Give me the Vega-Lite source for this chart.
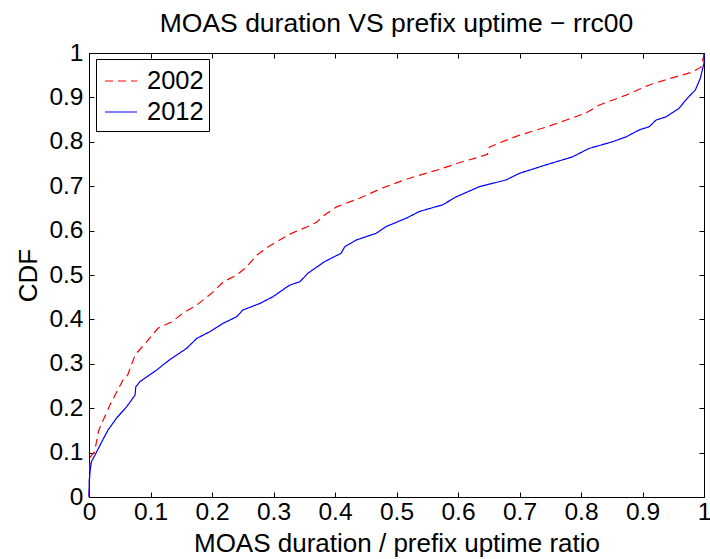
{
  "$schema": "https://vega.github.io/schema/vega-lite/v6.json",
  "width": 615,
  "height": 444,
  "autosize": "none",
  "padding": {"left": 89, "top": 53, "right": 6, "bottom": 62},
  "background": "white",
  "title": {"text": "MOAS duration VS prefix uptime − rrc00", "font": "Liberation Sans", "fontSize": 26.5, "fontWeight": "normal", "color": "black", "baseline": "alphabetic", "frame": "group", "offset": 0, "dy": 18, "anchor": "middle"},
  "config": {
    "view": {"stroke": "black", "strokeWidth": 1},
    "axis": {"grid": false, "domainColor": "black", "tickColor": "black", "labelColor": "black", "titleColor": "black", "labelFont": "Liberation Sans", "titleFont": "Liberation Sans", "labelFontSize": 24.5, "titleFontSize": 26, "titleFontWeight": "normal", "tickSize": -5, "labelFlush": false, "labelOverlap": false},
    "legend": {"orient": "none", "legendX": 7, "legendY": 6, "symbolType": "stroke", "symbolSize": 1024, "symbolOffset": 3, "symbolStrokeWidth": 1.2, "labelFont": "Liberation Sans", "labelFontSize": 25.5, "labelColor": "black", "labelOffset": 9, "padding": 5, "rowPadding": 0, "strokeColor": "black", "fillColor": "white", "cornerRadius": 0}
  },
  "data": {"values": [
    {"year": "2002", "i": 0, "x": 0, "y": 0},
    {"year": "2002", "i": 1, "x": 0.001, "y": 0.05},
    {"year": "2002", "i": 2, "x": 0.002, "y": 0.09},
    {"year": "2002", "i": 3, "x": 0.009, "y": 0.102},
    {"year": "2002", "i": 4, "x": 0.016, "y": 0.151},
    {"year": "2002", "i": 5, "x": 0.034, "y": 0.207},
    {"year": "2002", "i": 6, "x": 0.055, "y": 0.263},
    {"year": "2002", "i": 7, "x": 0.063, "y": 0.275},
    {"year": "2002", "i": 8, "x": 0.075, "y": 0.32},
    {"year": "2002", "i": 9, "x": 0.094, "y": 0.35},
    {"year": "2002", "i": 10, "x": 0.112, "y": 0.38},
    {"year": "2002", "i": 11, "x": 0.134, "y": 0.394},
    {"year": "2002", "i": 12, "x": 0.153, "y": 0.414},
    {"year": "2002", "i": 13, "x": 0.175, "y": 0.432},
    {"year": "2002", "i": 14, "x": 0.202, "y": 0.462},
    {"year": "2002", "i": 15, "x": 0.218, "y": 0.484},
    {"year": "2002", "i": 16, "x": 0.24, "y": 0.5},
    {"year": "2002", "i": 17, "x": 0.256, "y": 0.518},
    {"year": "2002", "i": 18, "x": 0.273, "y": 0.545},
    {"year": "2002", "i": 19, "x": 0.291, "y": 0.563},
    {"year": "2002", "i": 20, "x": 0.31, "y": 0.579},
    {"year": "2002", "i": 21, "x": 0.331, "y": 0.595},
    {"year": "2002", "i": 22, "x": 0.354, "y": 0.608},
    {"year": "2002", "i": 23, "x": 0.37, "y": 0.619},
    {"year": "2002", "i": 24, "x": 0.383, "y": 0.635},
    {"year": "2002", "i": 25, "x": 0.402, "y": 0.653},
    {"year": "2002", "i": 26, "x": 0.44, "y": 0.673},
    {"year": "2002", "i": 27, "x": 0.477, "y": 0.696},
    {"year": "2002", "i": 28, "x": 0.521, "y": 0.718},
    {"year": "2002", "i": 29, "x": 0.565, "y": 0.736},
    {"year": "2002", "i": 30, "x": 0.607, "y": 0.755},
    {"year": "2002", "i": 31, "x": 0.635, "y": 0.766},
    {"year": "2002", "i": 32, "x": 0.648, "y": 0.772},
    {"year": "2002", "i": 33, "x": 0.651, "y": 0.788},
    {"year": "2002", "i": 34, "x": 0.672, "y": 0.8},
    {"year": "2002", "i": 35, "x": 0.7, "y": 0.815},
    {"year": "2002", "i": 36, "x": 0.743, "y": 0.833},
    {"year": "2002", "i": 37, "x": 0.776, "y": 0.849},
    {"year": "2002", "i": 38, "x": 0.808, "y": 0.865},
    {"year": "2002", "i": 39, "x": 0.83, "y": 0.883},
    {"year": "2002", "i": 40, "x": 0.873, "y": 0.905},
    {"year": "2002", "i": 41, "x": 0.911, "y": 0.928},
    {"year": "2002", "i": 42, "x": 0.948, "y": 0.944},
    {"year": "2002", "i": 43, "x": 0.981, "y": 0.957},
    {"year": "2002", "i": 44, "x": 0.995, "y": 0.968},
    {"year": "2002", "i": 45, "x": 1.0, "y": 0.995},
    {"year": "2002", "i": 46, "x": 1.0, "y": 1.0},
    {"year": "2012", "i": 0, "x": 0, "y": 0},
    {"year": "2012", "i": 1, "x": 0.0005, "y": 0.038},
    {"year": "2012", "i": 2, "x": 0.002, "y": 0.061},
    {"year": "2012", "i": 3, "x": 0.004, "y": 0.08},
    {"year": "2012", "i": 4, "x": 0.01, "y": 0.095},
    {"year": "2012", "i": 5, "x": 0.021, "y": 0.125},
    {"year": "2012", "i": 6, "x": 0.031, "y": 0.151},
    {"year": "2012", "i": 7, "x": 0.045, "y": 0.178},
    {"year": "2012", "i": 8, "x": 0.061, "y": 0.203},
    {"year": "2012", "i": 9, "x": 0.069, "y": 0.218},
    {"year": "2012", "i": 10, "x": 0.075, "y": 0.23},
    {"year": "2012", "i": 11, "x": 0.076, "y": 0.248},
    {"year": "2012", "i": 12, "x": 0.083, "y": 0.26},
    {"year": "2012", "i": 13, "x": 0.11, "y": 0.286},
    {"year": "2012", "i": 14, "x": 0.131, "y": 0.309},
    {"year": "2012", "i": 15, "x": 0.159, "y": 0.335},
    {"year": "2012", "i": 16, "x": 0.175, "y": 0.357},
    {"year": "2012", "i": 17, "x": 0.196, "y": 0.372},
    {"year": "2012", "i": 18, "x": 0.218, "y": 0.391},
    {"year": "2012", "i": 19, "x": 0.24, "y": 0.406},
    {"year": "2012", "i": 20, "x": 0.25, "y": 0.421},
    {"year": "2012", "i": 21, "x": 0.278, "y": 0.436},
    {"year": "2012", "i": 22, "x": 0.299, "y": 0.451},
    {"year": "2012", "i": 23, "x": 0.326, "y": 0.477},
    {"year": "2012", "i": 24, "x": 0.343, "y": 0.485},
    {"year": "2012", "i": 25, "x": 0.356, "y": 0.504},
    {"year": "2012", "i": 26, "x": 0.383, "y": 0.53},
    {"year": "2012", "i": 27, "x": 0.41, "y": 0.549},
    {"year": "2012", "i": 28, "x": 0.416, "y": 0.564},
    {"year": "2012", "i": 29, "x": 0.435, "y": 0.579},
    {"year": "2012", "i": 30, "x": 0.467, "y": 0.594},
    {"year": "2012", "i": 31, "x": 0.483, "y": 0.609},
    {"year": "2012", "i": 32, "x": 0.516, "y": 0.628},
    {"year": "2012", "i": 33, "x": 0.537, "y": 0.643},
    {"year": "2012", "i": 34, "x": 0.575, "y": 0.658},
    {"year": "2012", "i": 35, "x": 0.597, "y": 0.676},
    {"year": "2012", "i": 36, "x": 0.635, "y": 0.699},
    {"year": "2012", "i": 37, "x": 0.678, "y": 0.714},
    {"year": "2012", "i": 38, "x": 0.7, "y": 0.729},
    {"year": "2012", "i": 39, "x": 0.743, "y": 0.748},
    {"year": "2012", "i": 40, "x": 0.786, "y": 0.766},
    {"year": "2012", "i": 41, "x": 0.813, "y": 0.785},
    {"year": "2012", "i": 42, "x": 0.851, "y": 0.8},
    {"year": "2012", "i": 43, "x": 0.873, "y": 0.811},
    {"year": "2012", "i": 44, "x": 0.895, "y": 0.827},
    {"year": "2012", "i": 45, "x": 0.911, "y": 0.834},
    {"year": "2012", "i": 46, "x": 0.922, "y": 0.849},
    {"year": "2012", "i": 47, "x": 0.938, "y": 0.856},
    {"year": "2012", "i": 48, "x": 0.959, "y": 0.875},
    {"year": "2012", "i": 49, "x": 0.973, "y": 0.898},
    {"year": "2012", "i": 50, "x": 0.986, "y": 0.917},
    {"year": "2012", "i": 51, "x": 0.994, "y": 0.943},
    {"year": "2012", "i": 52, "x": 1.0, "y": 0.977},
    {"year": "2012", "i": 53, "x": 1.0, "y": 1.0}
  ]},
  "layer": [
    {
      "mark": {"type": "line", "strokeWidth": 1.2},
      "encoding": {
        "x": {"field": "x", "type": "quantitative", "scale": {"domain": [0, 1], "nice": false, "zero": false},
              "axis": {"orient": "bottom", "values": [0, 0.1, 0.2, 0.3, 0.4, 0.5, 0.6, 0.7, 0.8, 0.9, 1], "format": "~g", "title": "MOAS duration / prefix uptime ratio", "labelPadding": 8, "titlePadding": 7}},
        "y": {"field": "y", "type": "quantitative", "scale": {"domain": [0, 1], "nice": false, "zero": false},
              "axis": {"orient": "left", "values": [0, 0.1, 0.2, 0.3, 0.4, 0.5, 0.6, 0.7, 0.8, 0.9, 1], "format": "~g", "title": "CDF", "labelPadding": 11, "titlePadding": 7}},
        "color": {"field": "year", "type": "nominal", "scale": {"domain": ["2002", "2012"], "range": ["#ff0000", "#0000ff"]}, "legend": {"title": null}},
        "strokeDash": {"field": "year", "type": "nominal", "scale": {"domain": ["2002", "2012"], "range": [[8, 5], [1, 0]]}, "legend": {"title": null}},
        "order": {"field": "i", "type": "quantitative"}
      }
    },
    {
      "mark": {"type": "point", "opacity": 0},
      "encoding": {
        "x": {"field": "x", "type": "quantitative", "axis": {"orient": "top", "values": [0, 0.1, 0.2, 0.3, 0.4, 0.5, 0.6, 0.7, 0.8, 0.9, 1], "labels": false, "title": null}},
        "y": {"field": "y", "type": "quantitative", "axis": {"orient": "right", "values": [0, 0.1, 0.2, 0.3, 0.4, 0.5, 0.6, 0.7, 0.8, 0.9, 1], "labels": false, "title": null}}
      }
    }
  ],
  "resolve": {"axis": {"x": "independent", "y": "independent"}}
}
